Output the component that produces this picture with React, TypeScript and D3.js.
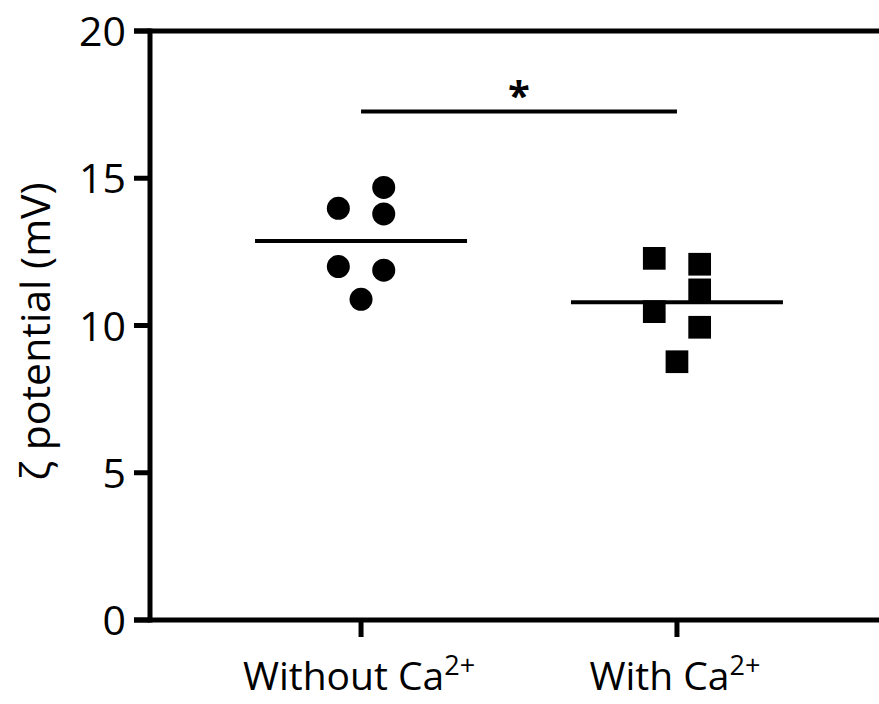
import { useEffect, useRef } from 'react';
import * as d3 from 'd3';

// groups shown on the x axis
const categories = ['Without Ca', 'With Ca'];
// zeta potential readings (mV), one array per group
const withoutCa = [13.98, 14.69, 13.79, 12.0, 11.88, 10.89];
const withCa = [12.28, 12.08, 11.21, 10.47, 9.94, 8.77];
// column slot of each point inside its group (scatter jitter: -1 left, 0 middle, 1 right)
const withoutCaSlot = [-1, 1, 1, -1, 1, 0];
const withCaSlot = [-1, 1, 1, -1, 1, 0];
const yTicks = [0, 5, 10, 15, 20];

const W = 879;
const H = 704;
const FONT = "'Open Sans', sans-serif";

export default function App() {
  const svgRef = useRef<SVGSVGElement | null>(null);

  useEffect(() => {
    if (!svgRef.current) return;
    const svg = d3.select(svgRef.current);
    svg.selectAll('*').remove();

    const y = d3.scaleLinear().domain([0, 20]).range([620, 31]);
    const x = d3.scalePoint<string>().domain(categories).range([150, 888]).padding(0.668);
    const slot = d3.scaleLinear().domain([-1, 1]).range([-22.7, 22.7]);
    const axisLeft = 150;

    const g = svg.append('g');

    // y axis line + ticks
    g.append('line')
      .attr('x1', axisLeft).attr('x2', axisLeft)
      .attr('y1', y(20) - 2.5).attr('y2', y(0) + 2.5)
      .attr('stroke', '#000').attr('stroke-width', 5);

    g.selectAll('.ytick')
      .data(yTicks)
      .join('line')
      .attr('x1', 134).attr('x2', axisLeft)
      .attr('y1', d => y(d)).attr('y2', d => y(d))
      .attr('stroke', '#000').attr('stroke-width', 5);

    g.selectAll('.ylabel')
      .data(yTicks)
      .join('text')
      .attr('x', 126)
      .attr('y', d => y(d))
      .attr('dy', '0.37em')
      .attr('text-anchor', 'end')
      .attr('font-family', FONT)
      .attr('font-size', 41)
      .attr('fill', '#000')
      .text(d => d);

    // top frame line and bottom axis
    g.append('line')
      .attr('x1', 134).attr('x2', W)
      .attr('y1', y(20)).attr('y2', y(20))
      .attr('stroke', '#000').attr('stroke-width', 5);
    g.append('line')
      .attr('x1', 134).attr('x2', W)
      .attr('y1', y(0)).attr('y2', y(0))
      .attr('stroke', '#000').attr('stroke-width', 5);

    // x ticks
    g.selectAll('.xtick')
      .data(categories)
      .join('line')
      .attr('x1', d => x(d)!).attr('x2', d => x(d)!)
      .attr('y1', y(0)).attr('y2', y(0) + 17)
      .attr('stroke', '#000').attr('stroke-width', 5);

    // x labels with superscript
    const xl = g.selectAll('.xlabel')
      .data(categories)
      .join('text')
      .attr('x', d => x(d)! - 2)
      .attr('y', 690)
      .attr('text-anchor', 'middle')
      .attr('font-family', FONT)
      .attr('font-size', 39)
      .attr('fill', '#000');
    xl.append('tspan').text(d => d);
    xl.append('tspan').attr('dy', -15).attr('font-size', 27).text('2+');

    // y title
    g.append('text')
      .attr('transform', `translate(50, ${y(10) + 6}) rotate(-90)`)
      .attr('text-anchor', 'middle')
      .attr('font-family', FONT)
      .attr('font-size', 41)
      .attr('fill', '#000')
      .text('ζ potential (mV)');

    // points
    const groups = [
      { key: categories[0], values: withoutCa, slots: withoutCaSlot, shape: 'circle' },
      { key: categories[1], values: withCa, slots: withCaSlot, shape: 'square' },
    ];

    groups.forEach(grp => {
      const cx = x(grp.key)!;
      const pts = grp.values.map((v, i) => ({ v, s: grp.slots[i] }));
      if (grp.shape === 'circle') {
        g.selectAll(null)
          .data(pts)
          .join('circle')
          .attr('cx', d => cx + slot(d.s))
          .attr('cy', d => y(d.v))
          .attr('r', 11.5)
          .attr('fill', '#000');
      } else {
        const side = 22.7;
        g.selectAll(null)
          .data(pts)
          .join('rect')
          .attr('x', d => cx + slot(d.s) - side / 2)
          .attr('y', d => y(d.v) - side / 2)
          .attr('width', side)
          .attr('height', side)
          .attr('fill', '#000');
      }
      const m = d3.mean(grp.values)!;
      g.append('line')
        .attr('x1', cx - 106).attr('x2', cx + 106)
        .attr('y1', y(m)).attr('y2', y(m))
        .attr('stroke', '#000').attr('stroke-width', 4);
    });

    // significance bar
    const x0 = x(categories[0])!;
    const x1 = x(categories[1])!;
    g.append('line')
      .attr('x1', x0).attr('x2', x1)
      .attr('y1', 111.5).attr('y2', 111.5)
      .attr('stroke', '#000').attr('stroke-width', 4);
    g.append('text')
      .attr('x', (x0 + x1) / 2)
      .attr('y', 110)
      .attr('text-anchor', 'middle')
      .attr('font-family', FONT)
      .attr('font-size', 40)
      .attr('font-weight', 'bold')
      .attr('fill', '#000')
      .text('*');
  }, []);

  return (
    <svg
      ref={svgRef}
      width={W}
      height={H}
      style={{ position: 'absolute', left: 0, top: 0, background: '#fff' }}
    />
  );
}
